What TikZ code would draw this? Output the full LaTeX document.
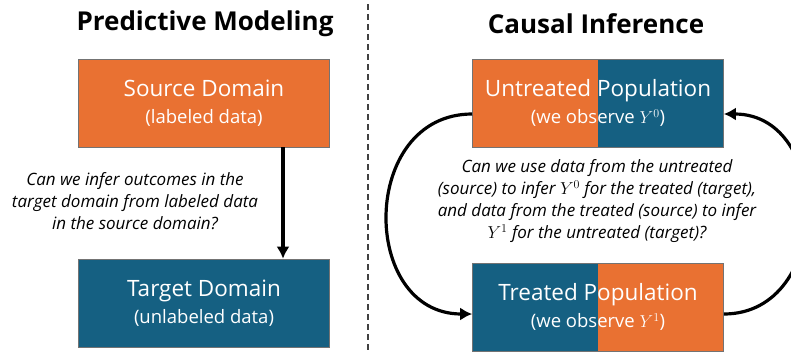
\documentclass[tikz,border=0pt]{standalone}
\usepackage{fontspec}
\setmainfont{Open Sans}
\usetikzlibrary{arrows.meta}
\definecolor{srcorange}{HTML}{E97132}
\definecolor{tgtblue}{HTML}{156082}
\tikzset{
  domainbox/.style={draw=black!55, line width=0.6pt, minimum width=251pt, minimum height=88pt,
    text=white, align=center, inner sep=0pt, font=\fontsize{22.5}{27}\selectfont},
  splitbox/.style 2 args={domainbox, path picture={
    \fill[#1] (path picture bounding box.south west) rectangle (path picture bounding box.north);
    \fill[#2] (path picture bounding box.south) rectangle (path picture bounding box.north east);}},
  headline/.style={font=\bfseries\fontsize{26}{30}\selectfont},
  question/.style={font=\itshape\fontsize{17}{22}\selectfont, align=center},
  bigarrow/.style={line width=3.2pt, -{Latex[length=12pt,width=13pt]}}
}
\newcommand{\smalltxt}[1]{{\fontsize{18.5}{22}\selectfont #1}}
\begin{document}
\begin{tikzpicture}[x=1pt,y=-1pt]
   \useasboundingbox (0,0) rectangle (791,351);
   % left half
   \node [headline] (pmtitle) at (205,24) {Predictive Modeling};
   \node [domainbox, fill=srcorange] (src) at (204,103) {Source Domain\\\smalltxt{(labeled data)}};
   \node [domainbox, fill=tgtblue] (tgt) at (204,303) {Target Domain\\\smalltxt{(unlabeled data)}};
   \node [question] (pmq) at (135,201) {Can we infer outcomes in the\\target domain from labeled data\\in the source domain?};
   \draw [bigarrow] ([xshift=79pt]src.south) -- ([xshift=79pt]tgt.north);
   % separator
   \coordinate (sepT) at (368,4);
   \coordinate (sepB) at (368,351);
   \draw [black!75, line width=1.1pt, dash pattern=on 6pt off 4pt] (sepT) -- (sepB);
   % right half
   \node [headline] (cititle) at (596,24) {Causal Inference};
   \node [splitbox={srcorange}{tgtblue}] (unt) at (598,103) {Untreated Population\\\smalltxt{(we observe $Y^0$)}};
   \node [splitbox={tgtblue}{srcorange}] (trt) at (598,307) {Treated Population\\\smalltxt{(we observe $Y^1$)}};
   \node [question] (ciq) at (597,201) {Can we use data from the untreated\\(source) to infer $Y^0$ for the treated (target),\\and data from the treated (source) to infer\\$Y^1$ for the untreated (target)?};
   \draw [bigarrow] ([yshift=-11pt]unt.west) to [out=180, in=180, looseness=1.45] ([yshift=-7pt]trt.west);
   \draw [bigarrow] ([yshift=-7pt]trt.east) to [out=0, in=0, looseness=1.4] ([yshift=-11pt]unt.east);
\end{tikzpicture}
\end{document}
